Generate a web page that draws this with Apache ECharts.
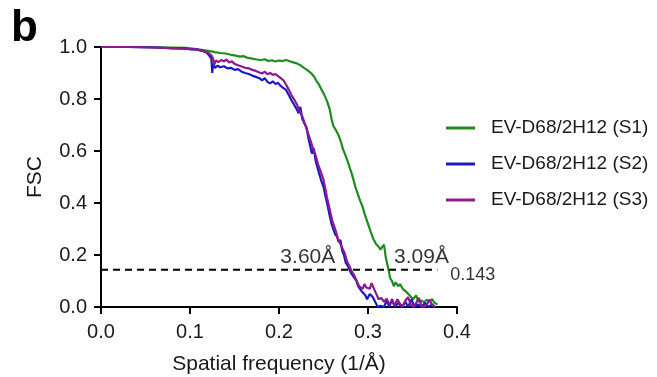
<!DOCTYPE html>
<html><head><meta charset="utf-8">
<script src="https://cdn.jsdelivr.net/npm/echarts@6/dist/echarts.min.js"></script>
<style>html,body{margin:0;padding:0;background:#fff}#c{width:657px;height:377px}</style>
</head><body><div id="c"></div>
<script>
const seriesNames = ['EV-D68/2H12 (S1)','EV-D68/2H12 (S2)','EV-D68/2H12 (S3)'];
const xTicks = ['0.0','0.1','0.2','0.3','0.4'];
const yTicks = ['0.0','0.2','0.4','0.6','0.8','1.0'];
const s1 = [[0,1],[0.02,1],[0.04,1],[0.06,0.999],[0.08,0.998],[0.095,0.997],[0.105,0.993],[0.115,0.988],[0.122,0.984],[0.128,0.98],[0.134,0.977],[0.14,0.975],[0.146,0.97],[0.15,0.968],[0.156,0.963],[0.16,0.965],[0.165,0.958],[0.17,0.955],[0.175,0.952],[0.18,0.95],[0.184,0.953],[0.188,0.946],[0.192,0.949],[0.196,0.944],[0.2,0.948],[0.204,0.946],[0.208,0.95],[0.212,0.945],[0.216,0.941],[0.22,0.937],[0.224,0.93],[0.228,0.92],[0.231,0.913],[0.234,0.905],[0.237,0.896],[0.24,0.883],[0.242,0.87],[0.245,0.855],[0.248,0.835],[0.251,0.815],[0.254,0.792],[0.257,0.76],[0.259,0.725],[0.261,0.697],[0.264,0.68],[0.267,0.66],[0.27,0.63],[0.272,0.606],[0.275,0.58],[0.277,0.562],[0.28,0.53],[0.282,0.51],[0.284,0.485],[0.286,0.46],[0.288,0.44],[0.291,0.41],[0.294,0.385],[0.296,0.36],[0.298,0.34],[0.301,0.31],[0.303,0.29],[0.306,0.262],[0.309,0.242],[0.312,0.232],[0.314,0.22],[0.316,0.232],[0.318,0.24],[0.32,0.19],[0.322,0.16],[0.325,0.11],[0.327,0.1],[0.329,0.08],[0.331,0.095],[0.334,0.08],[0.336,0.088],[0.339,0.07],[0.341,0.075],[0.344,0.055],[0.346,0.06],[0.348,0.04],[0.351,0.03],[0.354,0.045],[0.357,0.02],[0.36,0.025],[0.363,0.018],[0.366,0.028],[0.369,0.022],[0.372,0.03],[0.375,0.015],[0.378,0.01]];
const s2 = [[0,1],[0.03,1],[0.06,0.998],[0.08,0.995],[0.09,0.996],[0.1,0.992],[0.108,0.99],[0.115,0.984],[0.119,0.978],[0.122,0.965],[0.124,0.955],[0.125,0.9],[0.126,0.935],[0.128,0.92],[0.131,0.928],[0.134,0.922],[0.138,0.926],[0.142,0.918],[0.146,0.92],[0.15,0.912],[0.154,0.915],[0.158,0.905],[0.162,0.9],[0.166,0.896],[0.17,0.89],[0.174,0.885],[0.178,0.88],[0.181,0.872],[0.184,0.88],[0.187,0.866],[0.19,0.86],[0.193,0.868],[0.196,0.858],[0.199,0.862],[0.202,0.85],[0.205,0.842],[0.208,0.835],[0.211,0.815],[0.214,0.795],[0.217,0.778],[0.22,0.76],[0.222,0.745],[0.224,0.77],[0.226,0.725],[0.228,0.71],[0.231,0.69],[0.233,0.65],[0.235,0.62],[0.237,0.59],[0.239,0.61],[0.241,0.565],[0.243,0.54],[0.245,0.515],[0.248,0.48],[0.25,0.462],[0.252,0.43],[0.254,0.4],[0.257,0.35],[0.259,0.32],[0.261,0.3],[0.263,0.28],[0.265,0.272],[0.267,0.25],[0.269,0.258],[0.271,0.215],[0.273,0.2],[0.275,0.17],[0.277,0.16],[0.279,0.145],[0.281,0.13],[0.283,0.125],[0.285,0.11],[0.287,0.1],[0.289,0.08],[0.291,0.07],[0.293,0.06],[0.295,0.055],[0.297,0.045],[0.299,0.03],[0.302,0.05],[0.305,0.04],[0.308,0.02],[0.311,0],[0.314,0.005],[0.318,0],[0.321,0.025],[0.324,0],[0.327,0.03],[0.33,0],[0.334,0.015],[0.338,0],[0.342,0.02],[0.345,0],[0.349,0.03],[0.352,0],[0.356,0.01],[0.36,0],[0.364,0.015],[0.368,0],[0.372,0.01],[0.375,0]];
const s3 = [[0,1],[0.03,1],[0.06,0.998],[0.08,0.996],[0.09,0.994],[0.1,0.992],[0.108,0.99],[0.115,0.985],[0.12,0.978],[0.124,0.968],[0.126,0.955],[0.127,0.93],[0.129,0.948],[0.132,0.942],[0.135,0.95],[0.138,0.945],[0.141,0.952],[0.144,0.94],[0.147,0.945],[0.15,0.935],[0.154,0.93],[0.158,0.925],[0.162,0.92],[0.166,0.918],[0.17,0.912],[0.174,0.908],[0.178,0.902],[0.181,0.898],[0.184,0.905],[0.187,0.895],[0.19,0.9],[0.193,0.893],[0.196,0.896],[0.199,0.888],[0.202,0.88],[0.205,0.872],[0.208,0.855],[0.211,0.836],[0.214,0.815],[0.217,0.798],[0.22,0.78],[0.223,0.755],[0.226,0.735],[0.229,0.705],[0.232,0.675],[0.235,0.645],[0.238,0.612],[0.241,0.585],[0.244,0.548],[0.247,0.52],[0.25,0.49],[0.252,0.455],[0.254,0.42],[0.256,0.39],[0.258,0.36],[0.26,0.33],[0.262,0.31],[0.264,0.29],[0.266,0.265],[0.268,0.25],[0.27,0.235],[0.272,0.22],[0.274,0.205],[0.276,0.18],[0.278,0.165],[0.28,0.15],[0.282,0.135],[0.284,0.125],[0.286,0.118],[0.288,0.095],[0.29,0.08],[0.292,0.085],[0.294,0.07],[0.296,0.088],[0.298,0.075],[0.3,0.08],[0.302,0.07],[0.304,0.092],[0.306,0.085],[0.308,0.06],[0.31,0.055],[0.312,0.03],[0.315,0.035],[0.318,0.02],[0.321,0.032],[0.324,0.01],[0.327,0.025],[0.33,0.005],[0.333,0.03],[0.336,0.012],[0.339,0.002],[0.342,0.025],[0.345,0.038],[0.348,0.01],[0.351,0],[0.354,0.015],[0.357,0.035],[0.36,0.005],[0.363,0],[0.366,0.01],[0.369,0.028],[0.372,0.008],[0.375,0]];
const threshold = [[0,0.143],[0.378,0.143]];
const annoPoints = [[0.2778,0.143],[0.3236,0.143],[0.389,0.143]];
const annoTexts = ['3.60Å','3.09Å','0.143'];
const colors = ['#1f8c1f','#1a1ac4','#8c1a8c'];

const chart = echarts.init(document.getElementById('c'));
const FONT = 'Liberation Sans, Arial, sans-serif';
const annoLabelCfg = [
  {position:'left', align:'right', verticalAlign:'bottom', offset:[-8,-2], fontSize:21},
  {position:'right', align:'left', verticalAlign:'bottom', offset:[0,-2], fontSize:21},
  {position:'right', align:'left', verticalAlign:'middle', offset:[-2,5], fontSize:18}
];
chart.setOption({
  animation:false,
  backgroundColor:'#fff',
  textStyle:{fontFamily:FONT},
  grid:{left:101,right:200,top:47,bottom:70,outerBoundsMode:'none',containLabel:false},
  graphic:[{type:'text',left:11,top:7,style:{text:'b',font:'bold 44px '+FONT,fill:'#000'}}],
  legend:{
    orient:'vertical', left:441, top:112, icon:'rect', itemWidth:29, itemHeight:3, itemGap:14,
    data:seriesNames,
    textStyle:{fontSize:19,color:'#1a1a1a',fontFamily:FONT,padding:[0,0,0,11],lineHeight:22}
  },
  xAxis:{type:'value',min:0,max:0.4,interval:0.1,
    name:'Spatial frequency (1/Å)',nameLocation:'middle',nameGap:47,
    nameTextStyle:{fontSize:21,color:'#1a1a1a'},
    axisLine:{lineStyle:{color:'#000',width:2}},
    axisTick:{length:7,lineStyle:{color:'#000',width:2}},
    axisLabel:{fontSize:20,color:'#1a1a1a',margin:15,formatter:(v)=>xTicks[Math.round(v*10)]},
    splitLine:{show:false}},
  yAxis:{type:'value',min:0,max:1,interval:0.2,
    name:'FSC',nameLocation:'middle',nameGap:55,
    nameTextStyle:{fontSize:21,color:'#1a1a1a'},
    axisLine:{show:true,lineStyle:{color:'#000',width:2}},
    axisTick:{show:true,length:7,lineStyle:{color:'#000',width:2}},
    axisLabel:{fontSize:20,color:'#1a1a1a',margin:14,formatter:(v)=>yTicks[Math.round(v*5)]},
    splitLine:{show:false}},
  series:[
    {name:seriesNames[0],type:'line',data:s1,showSymbol:false,lineStyle:{width:2.2,color:colors[0]},itemStyle:{color:colors[0]},z:3},
    {name:seriesNames[1],type:'line',data:s2,showSymbol:false,lineStyle:{width:2.2,color:colors[1]},itemStyle:{color:colors[1]},z:4},
    {name:seriesNames[2],type:'line',data:s3,showSymbol:false,lineStyle:{width:2.2,color:colors[2]},itemStyle:{color:colors[2]},z:5},
    {name:'threshold',type:'line',data:threshold,showSymbol:false,lineStyle:{width:2,color:'#000',type:[7,5]},z:6},
    {name:'anno',type:'scatter',symbolSize:0,z:7,
      data:annoPoints.map((p,i)=>({value:p,label:Object.assign({show:true,formatter:annoTexts[i],color:'#000'},annoLabelCfg[i])}))}
  ]
});
</script></body></html>
